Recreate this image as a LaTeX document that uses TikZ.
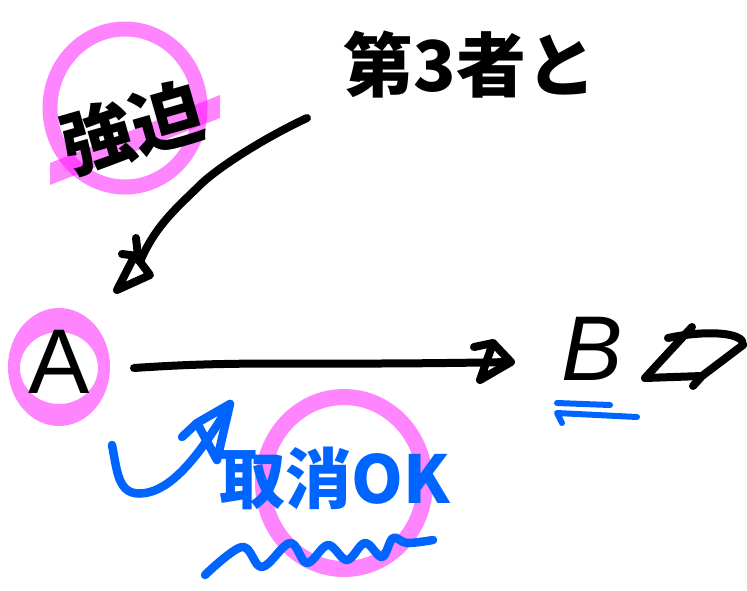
\documentclass[tikz,border=0pt]{standalone}
\usepackage{fontspec}
\newfontfamily\jp{Noto Sans CJK JP}
\newfontfamily\lat{Liberation Sans}
\definecolor{hlpink}{RGB}{255,0,255}
\definecolor{penblue}{RGB}{0,100,255}
\tikzset{
  ink/.style={line width=8pt, line cap=round, line join=round},
  blackink/.style={ink, draw=black},
  blueink/.style={ink, draw=penblue, line width=8.5pt},
  marker/.style={draw=hlpink, opacity=0.48},
  jptext/.style={inner sep=0pt, font=\jp\bfseries},
}
\begin{document}
\begin{tikzpicture}[x=1pt,y=-1pt]
\useasboundingbox (0,0) rectangle (747,590);
% pink highlights
\draw[marker, line width=15pt] (125,108) ellipse [x radius=75, y radius=79];
\fill[hlpink, opacity=0.48] (50,163) -- (220,95) -- (220,118) -- (50,185) -- cycle;
\fill[hlpink, opacity=0.48, even odd rule] (59,367) ellipse [x radius=51, y radius=59] (59,368) ellipse [x radius=39, y radius=36];
\draw[marker, line width=16pt] (344,483) ellipse [x radius=81, y radius=86];
% texts
\node[jptext, font=\jp\bfseries\fontsize{70}{70}\selectfont] (third) at (470,65) {第3者と};
\node[jptext, rotate=16, font=\jp\bfseries\fontsize{72}{72}\selectfont] (force) at (132,127) {強迫};
\node[inner sep=0pt, font=\lat\fontsize{92}{92}\selectfont] (A) at (59,362) {A};
\node[inner sep=0pt, font=\lat\itshape\fontsize{92}{92}\selectfont] (B) at (592,349) {B};
\node[jptext, text=penblue, font=\jp\bfseries\fontsize{66}{66}\selectfont] (cancel) at (335,478) {取消OK};
% arrow from third party to A
\coordinate (t1) at (307,118);
\coordinate (t2) at (117,290);
\draw[blackink] (t1) .. controls (260,140) and (215,170) .. (200,185)
  .. controls (180,205) and (155,225) .. (140,262);
\draw[blackink] (t2) -- (150,275) -- (135,255) -- cycle;
\draw[blackink] (122,254) -- (138,256) -- (136,238);
% arrow A -> B
\coordinate (a1) at (134,368);
\coordinate (a2) at (511,362);
\draw[blackink] (a1) .. controls (250,360) and (300,366) .. (a2);
\draw[blackink] (a2) -- (493,343) -- (480,380) -- cycle;
\draw[blackink] (474,347) -- (493,343);
% property box next to B
\coordinate (p1) at (645,378);
\coordinate (p2) at (692,327);
\coordinate (p3) at (668,338);
\coordinate (p4) at (743,345);
\coordinate (p5) at (702,376);
\draw[blackink] (p1) -- (p2);
\draw[blackink] (p3) .. controls (705,330) and (745,332) .. (p4) -- (p5) -- (693,386);
\draw[blackink] (p1) -- (p5);
% underline of B
\coordinate (u1) at (557,403);
\coordinate (u2) at (610,405);
\coordinate (u3) at (557,413);
\coordinate (u4) at (637,417);
\draw[blueink, line width=6pt] (u1) -- (u2);
\draw[blueink, line width=6pt] (562,423) -- (u3) -- (u4);
% blue hook arrow
\coordinate (h1) at (112,445);
\coordinate (h2) at (230,404);
\draw[blueink] (h1) .. controls (118,475) and (118,500) .. (150,492)
  .. controls (175,485) and (200,455) .. (h2);
\draw[blueink] (h2) -- (197,423) -- (217,460) -- cycle;
\draw[blueink] (182,437) -- (197,423);
% wavy underline of cancel text
\draw[blueink] plot[smooth, tension=0.6] coordinates {(205,575) (242,547) (262,567) (290,543) (307,563)
  (328,545) (347,560) (365,543) (382,557) (393,538) (407,543) (433,540)};
\end{tikzpicture}
\end{document}
